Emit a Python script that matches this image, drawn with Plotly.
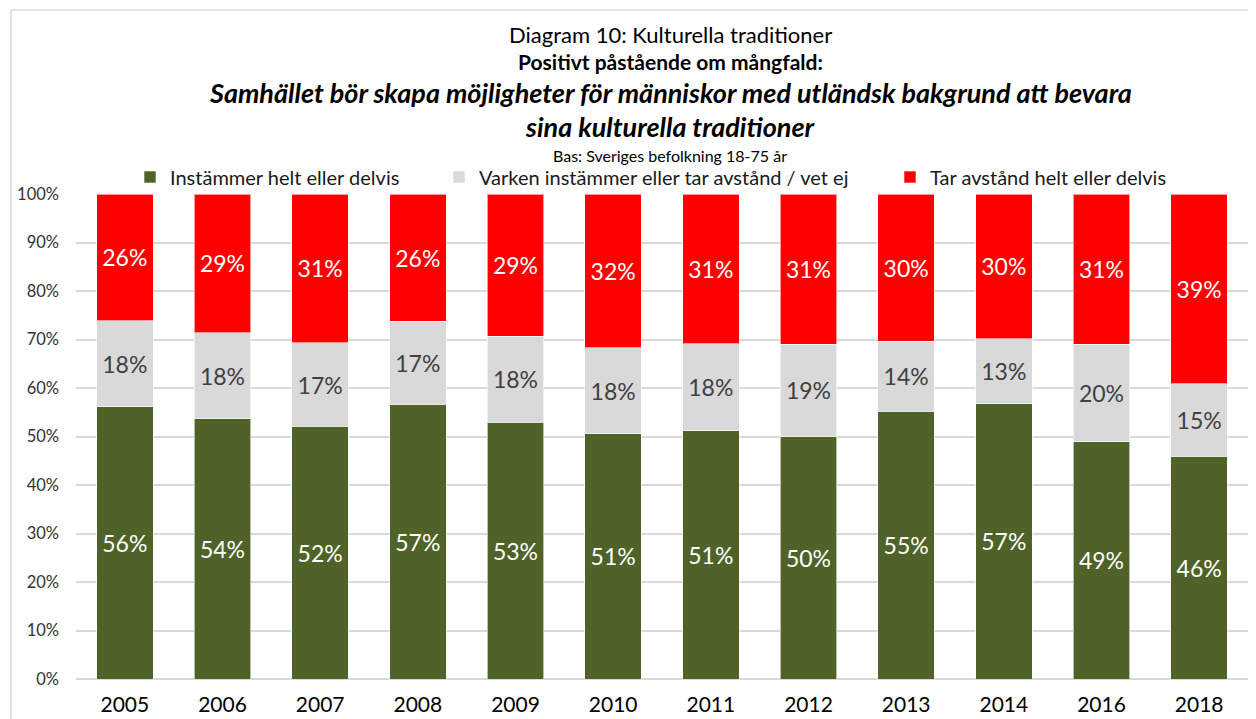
import plotly.graph_objects as go

years = ["2005", "2006", "2007", "2008", "2009", "2010", "2011", "2012", "2013", "2014", "2016", "2018"]
instammer = [56.1, 53.7, 52.1, 56.7, 52.9, 50.6, 51.2, 50.0, 55.2, 56.8, 48.9, 45.9]
varken = [17.8, 17.7, 17.2, 17.1, 17.8, 17.7, 17.9, 19.0, 14.4, 13.4, 20.1, 15.0]
tar_avstand = [26.1, 28.6, 30.7, 26.2, 29.3, 31.7, 30.9, 31.0, 30.4, 29.8, 31.0, 39.1]

series_names = ["Instämmer helt eller delvis", "Varken instämmer eller tar avstånd / vet ej", "Tar avstånd helt eller delvis"]
colors = ["#4F6228", "#D9D9D9", "#FF0000"]
text_colors = ["#FFFFFF", "#404040", "#FFFFFF"]
legend_ids = ["legend", "legend2", "legend3"]

# page has an 8px body margin; work in figure pixels
OFF = 8
W, H = 1248, 711
L, R, T, B = 68, 8, 186, 40
ph = H - T - B
pw = W - L - R

FONT = "Lato"

fig = go.Figure()
for name, vals, c, tc, lg in zip(series_names, [instammer, varken, tar_avstand], colors, text_colors, legend_ids):
    fig.add_trace(go.Bar(
        x=years, y=[v / 100 for v in vals], name=name, legend=lg,
        marker=dict(color=c, line=dict(color="rgba(255,255,255,0.6)", width=1)),
        texttemplate="%{y:.0%}", textposition="inside", insidetextanchor="middle",
        textfont=dict(family=FONT, size=23, color=tc), textangle=0,
        hoverinfo="skip",
    ))

def py(ypage):
    return (H - B - (ypage - OFF)) / ph

def px(xpage):
    return ((xpage - OFF) - L) / pw

title_lines = [
    ("Diagram 10: Kulturella traditioner", 22, 34.5),
    ("<b>Positivt påstående om mångfald:</b>", 21, 61.5),
    ("<b><i>Samhället bör skapa möjligheter för människor med utländsk bakgrund att bevara</i></b>", 27, 92),
    ("<b><i>sina kulturella traditioner</i></b>", 27, 126),
    ("Bas: Sveriges befolkning 18-75 år", 16, 155),
]
annotations = []
for txt, sz, yp in title_lines:
    annotations.append(dict(
        text=txt, x=px(670), y=py(yp), xref="paper", yref="paper",
        xanchor="center", yanchor="middle", showarrow=False,
        font=dict(family=FONT, size=sz, color="#000000"),
    ))

legend_common = dict(orientation="h", yanchor="middle", xanchor="left",
                     font=dict(family=FONT, size=20, color="#1A1A1A"), itemwidth=30,
                     bgcolor="rgba(0,0,0,0)", borderwidth=0)
text_starts = [170, 479, 930]
legends = {}
for lg, ts in zip(legend_ids, text_starts):
    legends[lg] = dict(legend_common, x=px(ts - 40), y=py(177))

fig.update_layout(
    width=W, height=H,
    margin=dict(l=L, r=R, t=T, b=B, autoexpand=False),
    barmode="stack", bargap=0.42,
    plot_bgcolor="white", paper_bgcolor="white",
    font=dict(family=FONT, color="#404040"),
    showlegend=True,
    xaxis=dict(showgrid=False, showline=False, ticks="", tickfont=dict(family=FONT, size=21, color="#000000"),
               ticklabelstandoff=11),
    yaxis=dict(range=[0, 1], dtick=0.1, tickformat=".0%", showgrid=True, gridcolor="#D9D9D9", gridwidth=1.5,
               zeroline=True, zerolinecolor="#D9D9D9", zerolinewidth=1.5, showline=False,
               tickfont=dict(family=FONT, size=16.5, color="#333333"), ticklabelstandoff=16),
    annotations=annotations,
    shapes=[dict(type="rect", xref="paper", yref="paper",
                 x0=px(11), x1=px(1280), y0=py(740), y1=py(10),
                 line=dict(color="#D9D9D9", width=1.5), fillcolor="rgba(0,0,0,0)", layer="below")],
    **legends,
)

fig.write_html("out.html")
